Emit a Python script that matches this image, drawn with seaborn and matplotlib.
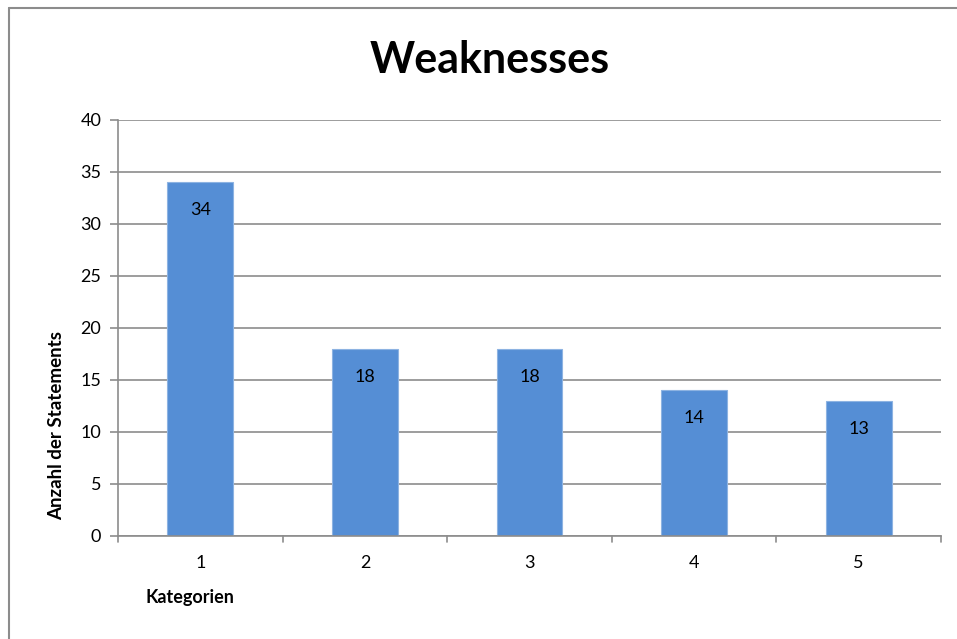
import matplotlib
matplotlib.use("Agg")
import matplotlib.pyplot as plt
import seaborn as sns
import pandas as pd
from matplotlib.lines import Line2D

categories = ["1", "2", "3", "4", "5"]
counts = [34, 18, 18, 14, 13]
y_ticks = [0, 5, 10, 15, 20, 25, 30, 35, 40]

title = "Weaknesses"
x_label = "Kategorien"
y_label = "Anzahl der Statements"

sns.set_theme(style="white")
plt.rcParams["font.family"] = ["Lato", "DejaVu Sans"]
plt.rcParams["text.color"] = "black"

df = pd.DataFrame({"Kategorie": categories, "Anzahl": counts})

fig = plt.figure(figsize=(9.57, 6.39), dpi=100)
ax = fig.add_axes([118 / 957, 103 / 639, 823 / 957, 416 / 639])

bar_color = "#558ED5"
sns.barplot(data=df, x="Kategorie", y="Anzahl", color=bar_color, width=0.4,
            saturation=1, edgecolor="#8DB3E2", linewidth=0.8, ax=ax)

ax.set_xlim(-0.5, len(categories) - 0.5)
ax.set_ylim(0, 40)
ax.set_yticks(y_ticks)
ax.set_yticklabels([str(t) for t in y_ticks], fontsize=13)
ax.set_xticks(range(len(categories)))
ax.set_xticklabels(categories, fontsize=13)

grid_color = "#8C8C8C"
ax.yaxis.grid(True, color=grid_color, linewidth=1.2)
ax.set_axisbelow(True)
for side in ["top", "right"]:
    ax.spines[side].set_visible(False)
for side in ["left", "bottom"]:
    ax.spines[side].set_color(grid_color)
    ax.spines[side].set_linewidth(1.2)

# y ticks point outward on the left; x ticks sit on category boundaries
ax.tick_params(axis="y", which="major", left=True, length=6, width=1.2,
               color=grid_color, pad=6, labelcolor="black")
ax.tick_params(axis="x", which="major", bottom=False, pad=8, labelcolor="black")
for b in range(len(categories) + 1):
    ax.add_line(Line2D([b - 0.5, b - 0.5], [0, -0.6], color=grid_color,
                       linewidth=1.2, clip_on=False,
                       transform=ax.transData))

# value labels inside the bars, just below their tops
for i, v in enumerate(counts):
    ax.annotate(str(v), xy=(i, v), xytext=(0, -20), textcoords="offset points",
                ha="center", va="center", fontsize=13, color="black")

ax.set_xlabel("")
ax.set_ylabel("")

fig.text(490 / 957, 1 - 60 / 639, title, ha="center", va="center",
         fontsize=31, fontweight="bold", color="black")
fig.text(190 / 957, 1 - 597 / 639, x_label, ha="center", va="center",
         fontsize=13, fontweight="bold", color="black")
fig.text(57 / 957, 1 - 425 / 639, y_label, ha="center", va="center",
         rotation=90, fontsize=13.5, fontweight="bold", color="black")

# chart frame along the top and left
fig.add_artist(Line2D([9 / 957, 9 / 957], [0, 1 - 8 / 639], color="#8C8C8C",
                      linewidth=1.5, transform=fig.transFigure))
fig.add_artist(Line2D([9 / 957, 1], [1 - 8 / 639, 1 - 8 / 639], color="#8C8C8C",
                      linewidth=1.5, transform=fig.transFigure))

fig.savefig("out.png", dpi=100)
